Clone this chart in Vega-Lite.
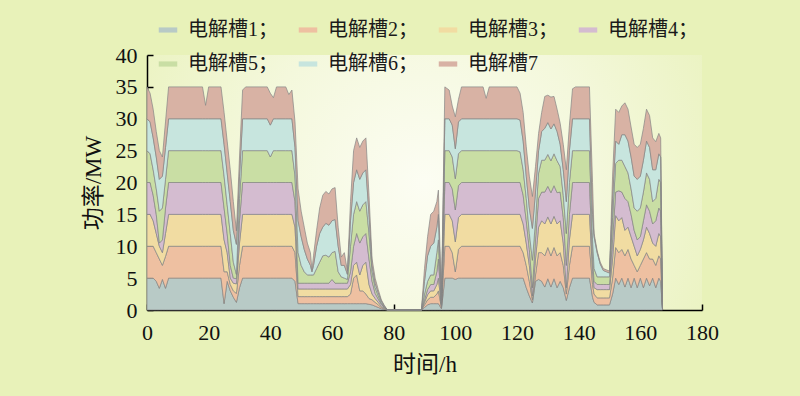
{
  "$schema": "https://vega.github.io/schema/vega-lite/v6.json",
  "width": 555,
  "height": 255,
  "autosize": {"type": "none"},
  "padding": {"left": 147, "top": 55, "right": 98, "bottom": 86},
  "background": "#e8f2b9",
  "config": {
    "view": {"stroke": null, "fill": {"gradient": "radial", "x1": 0.5, "y1": 0.5, "r1": 0, "x2": 0.5, "y2": 0.5, "r2": 0.62, "stops": [{"offset": 0, "color": "#fcfdf3"}, {"offset": 0.5, "color": "#f4f8dc"}, {"offset": 1, "color": "#e9f2bc"}]}},
    "font": "Liberation Serif, Noto Sans CJK SC",
    "axis": {"domainColor": "#000", "domainWidth": 1.5, "tickColor": "#000", "tickWidth": 1.5, "tickSize": -6, "labelFontSize": 22, "titleFontSize": 23, "labelColor": "#111", "titleColor": "#111", "grid": false, "titleFontWeight": "normal", "labelFlush": false, "zindex": 1, "labelFont": "Liberation Serif, Noto Sans CJK SC", "titleFont": "Liberation Serif, Noto Sans CJK SC"}
  },
  "data": {"values": [
    {"t":0,"e1":5,"e2":5,"e3":5,"e4":5,"e5":5,"e6":5,"e7":5},
    {"t":1,"e1":5,"e2":5,"e3":5,"e4":5,"e5":4.5,"e6":5,"e7":4.5},
    {"t":2,"e1":5,"e2":5,"e3":4,"e4":4,"e5":4,"e6":5,"e7":4.5},
    {"t":3,"e1":4.5,"e2":4.5,"e3":3,"e4":3,"e5":4,"e6":5,"e7":4},
    {"t":4,"e1":3.4,"e2":4.6,"e3":2,"e4":0.5,"e5":5,"e6":5,"e7":4.5},
    {"t":5,"e1":4.8,"e2":2.2,"e3":2,"e4":2,"e5":5,"e6":5,"e7":3},
    {"t":6,"e1":3.4,"e2":5,"e3":3.6,"e4":4,"e5":4.5,"e6":5,"e7":4},
    {"t":7,"e1":5,"e2":5,"e3":5,"e4":5,"e5":5,"e6":5,"e7":5},
    {"t":18,"e1":5,"e2":5,"e3":5,"e4":5,"e5":5,"e6":5,"e7":5},
    {"t":19,"e1":5,"e2":5,"e3":5,"e4":5,"e5":5,"e6":5,"e7":2.1},
    {"t":20,"e1":5,"e2":5,"e3":5,"e4":5,"e5":5,"e6":5,"e7":5},
    {"t":24,"e1":5,"e2":5,"e3":5,"e4":5,"e5":5,"e6":5,"e7":5},
    {"t":25,"e1":1,"e2":5,"e3":5,"e4":5,"e5":5,"e6":5,"e7":5},
    {"t":26,"e1":4.5,"e2":1.5,"e3":3,"e4":3,"e5":4.5,"e6":5,"e7":5},
    {"t":27,"e1":3,"e2":1,"e3":1,"e4":2,"e5":5,"e6":5,"e7":5},
    {"t":28,"e1":2,"e2":1,"e3":1.2,"e4":0.8,"e5":2.5,"e6":5,"e7":4.5},
    {"t":29,"e1":1.2,"e2":1.4,"e3":1.5,"e4":0.8,"e5":0.7,"e6":4.7,"e7":2.1},
    {"t":30,"e1":3.5,"e2":3.5,"e3":3.5,"e4":3.5,"e5":3.5,"e6":3.5,"e7":3},
    {"t":31,"e1":5,"e2":5,"e3":5,"e4":5,"e5":5,"e6":5,"e7":4.5},
    {"t":32,"e1":5,"e2":5,"e3":5,"e4":5,"e5":5,"e6":5,"e7":5},
    {"t":39,"e1":5,"e2":5,"e3":5,"e4":5,"e5":5,"e6":5,"e7":5},
    {"t":40,"e1":5,"e2":5,"e3":5,"e4":5,"e5":4,"e6":5,"e7":5},
    {"t":41,"e1":5,"e2":5,"e3":5,"e4":5,"e5":5,"e6":5,"e7":3.3},
    {"t":42,"e1":5,"e2":5,"e3":5,"e4":5,"e5":5,"e6":5,"e7":5},
    {"t":45,"e1":5,"e2":5,"e3":5,"e4":5,"e5":5,"e6":5,"e7":5},
    {"t":46,"e1":5,"e2":5,"e3":5,"e4":5,"e5":5,"e6":5,"e7":3.8},
    {"t":47,"e1":5,"e2":5,"e3":5,"e4":5,"e5":5,"e6":5,"e7":4.5},
    {"t":48,"e1":4.5,"e2":4.5,"e3":4,"e4":4,"e5":4,"e6":4.5,"e7":4},
    {"t":49,"e1":1,"e2":1.1,"e3":1.2,"e4":0.9,"e5":4.8,"e6":5,"e7":5},
    {"t":50,"e1":1,"e2":1.1,"e3":1.2,"e4":0.9,"e5":2.8,"e6":4.5,"e7":4},
    {"t":51,"e1":1,"e2":1.1,"e3":1.2,"e4":0.9,"e5":1.8,"e6":3.5,"e7":3.5},
    {"t":52,"e1":1,"e2":1.1,"e3":1.2,"e4":0.9,"e5":1.3,"e6":2.5,"e7":2.5},
    {"t":53,"e1":1,"e2":1.1,"e3":1.2,"e4":0.9,"e5":1.3,"e6":1.5,"e7":2},
    {"t":53.5,"e1":1,"e2":1.1,"e3":1.2,"e4":0.9,"e5":1.3,"e6":0.5,"e7":0.3},
    {"t":54,"e1":1,"e2":1.1,"e3":1.2,"e4":0.9,"e5":1.3,"e6":1.5,"e7":1.5},
    {"t":55,"e1":1,"e2":1.1,"e3":1.2,"e4":0.9,"e5":2.3,"e6":3.5,"e7":2.5},
    {"t":56,"e1":1,"e2":1.1,"e3":1.2,"e4":0.9,"e5":3.3,"e6":4.5,"e7":4},
    {"t":57,"e1":1,"e2":1.1,"e3":1.2,"e4":0.9,"e5":4.3,"e6":4.5,"e7":5},
    {"t":58,"e1":1,"e2":1.1,"e3":1.2,"e4":0.9,"e5":4.4,"e6":5,"e7":5},
    {"t":59,"e1":1,"e2":1.1,"e3":1.2,"e4":0.9,"e5":4.1,"e6":5,"e7":4.9},
    {"t":60,"e1":1,"e2":1.1,"e3":1.2,"e4":1.5,"e5":4.2,"e6":5,"e7":5},
    {"t":61,"e1":1,"e2":1.1,"e3":1.2,"e4":0.9,"e5":5,"e6":5,"e7":5},
    {"t":62,"e1":1,"e2":1.1,"e3":1.2,"e4":0.9,"e5":1.8,"e6":4,"e7":3},
    {"t":63,"e1":1,"e2":1.1,"e3":1.2,"e4":0.9,"e5":1,"e6":1.8,"e7":1.3},
    {"t":64,"e1":1,"e2":1.1,"e3":1.2,"e4":0.9,"e5":0.8,"e6":2,"e7":2},
    {"t":65,"e1":1,"e2":1.1,"e3":1.2,"e4":0.9,"e5":0.6,"e6":0.8,"e7":0.5},
    {"t":66,"e1":1,"e2":1.5,"e3":1.5,"e4":2,"e5":4,"e6":4,"e7":3},
    {"t":67,"e1":1,"e2":4,"e3":2,"e4":3,"e5":5,"e6":5,"e7":5},
    {"t":68,"e1":1,"e2":4.5,"e3":2,"e4":4.5,"e5":5,"e6":5,"e7":5},
    {"t":69,"e1":1,"e2":2,"e3":2.5,"e4":5,"e5":5,"e6":5,"e7":5},
    {"t":70,"e1":1,"e2":2,"e3":4,"e4":4.5,"e5":5,"e6":5,"e7":5},
    {"t":71,"e1":1,"e2":1.5,"e3":5,"e4":4.5,"e5":5,"e6":5,"e7":5},
    {"t":72,"e1":0.9,"e2":0.9,"e3":2.2,"e4":4,"e5":4,"e6":3,"e7":3},
    {"t":73,"e1":0.8,"e2":0.8,"e3":0.9,"e4":2,"e5":1.5,"e6":1,"e7":1},
    {"t":74,"e1":0.6,"e2":0.6,"e3":0.6,"e4":0.8,"e5":0.9,"e6":0.7,"e7":0.8},
    {"t":75,"e1":0.4,"e2":0.4,"e3":0.4,"e4":0.5,"e5":0.5,"e6":0.5,"e7":0.5},
    {"t":76,"e1":0.2,"e2":0.2,"e3":0.2,"e4":0.3,"e5":0.2,"e6":0.3,"e7":0.2},
    {"t":77,"e1":0.1,"e2":0.1,"e3":0.1,"e4":0.1,"e5":0.1,"e6":0.1,"e7":0.1},
    {"t":78,"e1":0,"e2":0,"e3":0,"e4":0,"e5":0,"e6":0,"e7":0},
    {"t":89,"e1":0,"e2":0,"e3":0,"e4":0,"e5":0,"e6":0,"e7":0},
    {"t":90,"e1":0.4,"e2":0.4,"e3":0.4,"e4":0.4,"e5":0.9,"e6":2,"e7":2},
    {"t":91,"e1":0.8,"e2":0.8,"e3":0.8,"e4":0.8,"e5":1.3,"e6":4,"e7":3},
    {"t":92,"e1":1,"e2":1,"e3":1,"e4":1,"e5":1.5,"e6":4.5,"e7":5},
    {"t":93,"e1":1,"e2":1,"e3":1,"e4":1,"e5":1.5,"e6":5,"e7":5},
    {"t":94,"e1":1,"e2":1.5,"e3":1.5,"e4":2,"e5":3,"e6":4,"e7":4},
    {"t":94.5,"e1":1,"e2":2,"e3":2,"e4":3,"e5":3,"e6":4,"e7":3.8},
    {"t":95.5,"e1":0.2,"e2":0.2,"e3":0.2,"e4":0.2,"e5":0.2,"e6":0.2,"e7":0.3},
    {"t":96.6,"e1":5,"e2":5,"e3":5,"e4":5,"e5":5,"e6":5,"e7":5},
    {"t":98,"e1":5,"e2":5,"e3":5,"e4":5,"e5":5,"e6":5,"e7":4.5},
    {"t":99,"e1":5,"e2":4,"e3":5,"e4":5,"e5":5,"e6":5,"e7":3},
    {"t":100,"e1":4.8,"e2":1.2,"e3":4.7,"e4":5,"e5":4.9,"e6":4.7,"e7":5},
    {"t":101,"e1":5,"e2":4.5,"e3":5,"e4":5,"e5":5,"e6":5,"e7":3.5},
    {"t":102,"e1":5,"e2":5,"e3":5,"e4":5,"e5":5,"e6":5,"e7":5},
    {"t":109,"e1":5,"e2":5,"e3":5,"e4":5,"e5":5,"e6":5,"e7":5},
    {"t":110,"e1":5,"e2":5,"e3":5,"e4":5,"e5":5,"e6":5,"e7":3.2},
    {"t":111,"e1":5,"e2":5,"e3":5,"e4":5,"e5":5,"e6":5,"e7":5},
    {"t":120,"e1":5,"e2":5,"e3":5,"e4":5,"e5":5,"e6":5,"e7":5},
    {"t":121,"e1":5,"e2":5,"e3":5,"e4":5,"e5":4.8,"e6":5,"e7":4.2},
    {"t":122,"e1":5,"e2":4,"e3":4.5,"e4":4.5,"e5":4,"e6":4.5,"e7":4.5},
    {"t":123,"e1":3.5,"e2":3.5,"e3":3.5,"e4":3.5,"e5":3.5,"e6":3.5,"e7":4.6},
    {"t":124,"e1":2.2,"e2":2.3,"e3":2.5,"e4":2.5,"e5":2.5,"e6":4,"e7":5},
    {"t":125,"e1":1.1,"e2":0.5,"e3":0.6,"e4":1.3,"e5":4.3,"e6":5,"e7":5},
    {"t":126,"e1":4.5,"e2":1,"e3":2.5,"e4":3,"e5":3,"e6":4.5,"e7":4},
    {"t":127,"e1":4.8,"e2":4.2,"e3":4,"e4":4.5,"e5":4,"e6":3.5,"e7":2.7},
    {"t":128,"e1":4.5,"e2":4.5,"e3":5,"e4":4.5,"e5":5,"e6":4.5,"e7":3},
    {"t":129,"e1":3.6,"e2":4.9,"e3":5,"e4":5,"e5":5,"e6":5,"e7":5},
    {"t":130,"e1":4.9,"e2":4.9,"e3":4.8,"e4":4.8,"e5":5,"e6":5,"e7":4.3},
    {"t":131,"e1":3.6,"e2":4.9,"e3":5,"e4":4.9,"e5":5,"e6":5,"e7":5},
    {"t":132,"e1":4.9,"e2":4.9,"e3":4.9,"e4":4.8,"e5":5,"e6":4.7,"e7":4.3},
    {"t":133,"e1":3.5,"e2":5,"e3":5,"e4":4.9,"e5":5,"e6":4.6,"e7":3.5},
    {"t":134,"e1":4.5,"e2":4.5,"e3":5,"e4":4.5,"e5":4,"e6":3.5,"e7":3.3},
    {"t":135,"e1":3.5,"e2":3.5,"e3":3.5,"e4":4,"e5":3.5,"e6":4,"e7":4},
    {"t":136,"e1":1.5,"e2":1,"e3":1,"e4":3.5,"e5":5,"e6":5,"e7":5},
    {"t":137,"e1":3.5,"e2":3.5,"e3":4,"e4":4,"e5":5,"e6":5,"e7":4},
    {"t":138,"e1":5,"e2":5,"e3":5,"e4":5,"e5":5,"e6":5,"e7":4.7},
    {"t":139,"e1":5,"e2":5,"e3":5,"e4":5,"e5":5,"e6":5,"e7":5},
    {"t":143.5,"e1":5,"e2":5,"e3":5,"e4":5,"e5":5,"e6":5,"e7":5},
    {"t":144.5,"e1":2,"e2":2,"e3":2,"e4":2,"e5":3,"e6":4,"e7":5},
    {"t":145,"e1":1.2,"e2":1.3,"e3":1,"e4":1,"e5":2,"e6":5,"e7":0.5},
    {"t":146,"e1":0.8,"e2":1.1,"e3":1.3,"e4":0.8,"e5":1.2,"e6":3.8,"e7":0.3},
    {"t":147,"e1":0.8,"e2":1.1,"e3":1.3,"e4":0.8,"e5":1.2,"e6":2,"e7":0.3},
    {"t":148,"e1":0.8,"e2":1.1,"e3":1.3,"e4":0.8,"e5":1.2,"e6":1,"e7":0.3},
    {"t":149,"e1":0.8,"e2":1.1,"e3":1.3,"e4":0.8,"e5":1.2,"e6":0.8,"e7":0.3},
    {"t":150,"e1":0.8,"e2":1.1,"e3":1.3,"e4":0.8,"e5":1.2,"e6":0.6,"e7":0.3},
    {"t":151,"e1":2.5,"e2":2.5,"e3":3,"e4":3,"e5":3.5,"e6":3,"e7":3.5},
    {"t":152,"e1":5,"e2":4.8,"e3":5,"e4":3.7,"e5":4.5,"e6":3.5,"e7":5},
    {"t":153,"e1":4,"e2":5,"e3":5,"e4":4.7,"e5":4.8,"e6":2.5,"e7":5},
    {"t":154,"e1":5,"e2":4.5,"e3":5,"e4":4,"e5":5,"e6":4,"e7":4.5},
    {"t":155,"e1":3.6,"e2":4.9,"e3":4,"e4":5,"e5":5,"e6":5,"e7":5},
    {"t":156,"e1":5,"e2":4.5,"e3":3.5,"e4":4,"e5":4.5,"e6":5,"e7":5},
    {"t":157,"e1":3.5,"e2":4.5,"e3":3.5,"e4":3.5,"e5":4,"e6":5,"e7":4.7},
    {"t":158,"e1":5,"e2":2,"e3":3,"e4":2.5,"e5":3.5,"e6":5,"e7":5},
    {"t":159,"e1":3.5,"e2":2.5,"e3":2.5,"e4":2.5,"e5":4.5,"e6":5,"e7":5},
    {"t":160,"e1":5,"e2":2,"e3":2.5,"e4":2,"e5":4.5,"e6":5,"e7":5},
    {"t":161,"e1":3.5,"e2":4.5,"e3":3,"e4":3,"e5":4.5,"e6":5,"e7":5},
    {"t":162,"e1":5,"e2":4,"e3":4,"e4":3.5,"e5":5,"e6":5,"e7":5},
    {"t":163,"e1":3.8,"e2":4.2,"e3":4,"e4":3.5,"e5":5,"e6":5,"e7":5},
    {"t":164,"e1":5,"e2":3,"e3":2.5,"e4":3,"e5":3.5,"e6":5,"e7":5},
    {"t":165,"e1":3.5,"e2":3.5,"e3":3,"e4":4,"e5":3.5,"e6":4.5,"e7":4.4},
    {"t":166,"e1":5,"e2":3.5,"e3":3.5,"e4":4,"e5":4.5,"e6":4,"e7":3.2},
    {"t":166.6,"e1":4.5,"e2":3.5,"e3":3.5,"e4":4,"e5":4.5,"e6":4,"e7":3},
    {"t":167.2,"e1":0,"e2":0,"e3":0,"e4":0,"e5":0,"e6":0,"e7":0}
  ]},
  "transform": [{"fold": ["e1","e2","e3","e4","e5","e6","e7"], "as": ["k","p"]}],
  "mark": {"type": "area", "stroke": "#858585", "strokeWidth": 0.7, "opacity": 1},
  "encoding": {
    "x": {"field": "t", "type": "quantitative", "scale": {"domain": [0, 180], "nice": false},
      "axis": {"values": [0,20,40,60,80,100,120,140,160,180], "title": "时间/h", "labelPadding": 18, "titlePadding": 10}},
    "y": {"field": "p", "type": "quantitative", "stack": "zero", "scale": {"domain": [0, 40], "nice": false},
      "axis": {"values": [0,5,10,15,20,25,30,35,40], "title": "功率/MW", "labelPadding": 16, "titlePadding": 10}},
    "order": {"field": "k", "sort": "ascending"},
    "color": {"field": "k", "type": "nominal",
      "scale": {"domain": ["e1","e2","e3","e4","e5","e6","e7"], "range": ["#b8cac6","#eec0a1","#f1dca2","#d4bcd0","#c9dea4","#c7e5de","#d8b2a4"]},
      "legend": {"orient": "none", "legendX": 11, "legendY": -35, "direction": "horizontal", "columns": 4, "title": null,
        "symbolType": "M-1,-0.28L1,-0.28L1,0.28L-1,0.28Z", "symbolSize": 342, "symbolStrokeWidth": 0,
        "labelFontSize": 20, "labelFont": "Liberation Serif, Noto Sans CJK SC", "labelColor": "#1a1a1a",
        "labelOffset": 10, "columnPadding": 20, "rowPadding": 14, "padding": 0,
        "labelExpr": "'电解槽' + substring(datum.label, 1) + (datum.label == 'e7' ? '' : '；')"}}
  }
}
